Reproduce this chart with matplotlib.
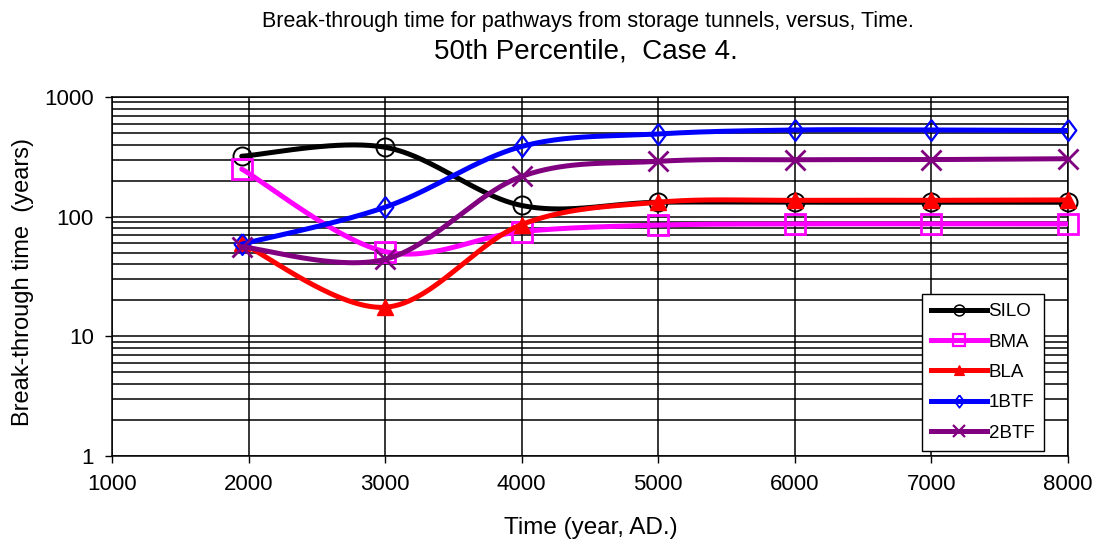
import numpy as np
import matplotlib
matplotlib.use('Agg')
import matplotlib.pyplot as plt
from matplotlib.lines import Line2D
from matplotlib.ticker import LogLocator, NullFormatter, FixedLocator

# ---- data ----
years = [1950, 3000, 4000, 5000, 6000, 7000, 8000]
silo = [320, 380, 124, 132, 132, 132, 132]
bma = [250, 51, 75, 85, 87, 87, 87]
bla = [60, 17.5, 86, 132, 137, 137, 138]
btf1 = [59, 120, 386, 491, 530, 530, 525]
btf2 = [56, 44, 217, 290, 299, 300, 305]
series_names = ['SILO', 'BMA', 'BLA', '1BTF', '2BTF']
x_ticks = [1000, 2000, 3000, 4000, 5000, 6000, 7000, 8000]
y_ticks = [1, 10, 100, 1000]

plt.rcParams['font.family'] = ['Liberation Sans', 'DejaVu Sans']

def smooth(x, y, n=60):
    """Excel-like smoothed line (Catmull-Rom Bezier) in (x, log y) space."""
    P = np.column_stack([np.asarray(x, float), np.log10(np.asarray(y, float))])
    out = []
    for i in range(len(P) - 1):
        p0 = P[i - 1] if i > 0 else P[i]
        p3 = P[i + 2] if i + 2 < len(P) else P[i + 1]
        c1 = P[i] + (P[i + 1] - p0) / 6.0
        c2 = P[i + 1] - (p3 - P[i]) / 6.0
        t = np.linspace(0, 1, n)[:, None]
        seg = ((1 - t) ** 3) * P[i] + 3 * ((1 - t) ** 2) * t * c1 \
            + 3 * (1 - t) * (t ** 2) * c2 + (t ** 3) * P[i + 1]
        out.append(seg if i == 0 else seg[1:])
    S = np.vstack(out)
    return S[:, 0], 10 ** S[:, 1]

diamond = [(0, 1), (0.75, 0), (0, -1), (-0.75, 0), (0, 1)]
styles = [
    dict(color='black', marker='o', ms=13, mfc='none', mew=1.4),
    dict(color='#FF00FF', marker='s', ms=14, mfc='none', mew=2.0),
    dict(color='#FF0000', marker='^', ms=12, mfc='#FF0000', mew=1.0),
    dict(color='#0000FF', marker=diamond, ms=15, mfc='none', mew=1.6),
    dict(color='#800080', marker='x', ms=15, mfc='none', mew=2.0),
]
data = [silo, bma, bla, btf1, btf2]

fig = plt.figure(figsize=(11.02, 5.44), dpi=100)
ax = fig.add_axes([112 / 1102, 1 - 456 / 544, (1068 - 112) / 1102, (456 - 97) / 544])
ax.set_yscale('log')
ax.set_xlim(1000, 8000)
ax.set_ylim(1, 1000)

handles = []
for k, (name, vals, st) in enumerate(zip(series_names, data, styles)):
    xs, ys = smooth(years, vals)
    ax.plot(xs, ys, color=st['color'], lw=3.6, solid_capstyle='round', zorder=3 + 2 * k)
    ax.plot(years, vals, ls='none', marker=st['marker'], ms=st['ms'],
            mfc=st['mfc'], mec=st['color'], mew=st['mew'], zorder=4 + 2 * k, clip_on=False)
    handles.append(Line2D([], [], color=st['color'], lw=3.6, marker=st['marker'],
                          ms=st['ms'] * 0.6, mfc=st['mfc'], mec=st['color'], mew=st['mew'] * 0.8))

ax.xaxis.set_major_locator(FixedLocator(x_ticks))
ax.set_xticklabels([str(v) for v in x_ticks])
ax.yaxis.set_major_locator(FixedLocator(y_ticks))
ax.set_yticklabels([str(v) for v in y_ticks])
ax.yaxis.set_minor_locator(LogLocator(base=10, subs=np.arange(2, 10), numticks=20))
ax.yaxis.set_minor_formatter(NullFormatter())

ax.grid(True, which='major', axis='both', color='black', lw=1.1, zorder=1)
ax.grid(True, which='minor', axis='y', color='black', lw=1.1, zorder=1)
ax.set_axisbelow(True)
ax.tick_params(axis='both', which='major', direction='out', length=5, width=1.0,
               labelsize=16, color='black')
ax.tick_params(axis='x', which='major', pad=8)
ax.tick_params(axis='y', which='major', pad=8)
ax.tick_params(axis='y', which='minor', length=0)
for sp in ax.spines.values():
    sp.set_color('black')
    sp.set_linewidth(1.1)

leg = ax.legend(handles, series_names, loc='upper left',
                bbox_to_anchor=((922 - 112) / 956, (456 - 294) / 359),
                borderaxespad=0, fontsize=13.5, handlelength=2.95, handletextpad=0.1,
                labelspacing=0.7, borderpad=0.5, frameon=True, fancybox=False,
                edgecolor='black', framealpha=1.0)
leg.get_frame().set_linewidth(1.0)
leg.set_zorder(20)

fig.text(588 / 1102, 1 - 21 / 544, 'Break-through time for pathways from storage tunnels, versus, Time.',
         ha='center', va='center', fontsize=15.5)
fig.text(586 / 1102, 1 - 51 / 544, '50th Percentile,  Case 4.',
         ha='center', va='center', fontsize=20)
fig.text(23 / 1102, 1 - 282.5 / 544, 'Break-through time  (years)', rotation=90,
         ha='center', va='center', fontsize=17)
fig.text(591 / 1102, 1 - 528 / 544, 'Time (year, AD.)', ha='center', va='center', fontsize=17.5)

fig.savefig('out.png', dpi=100)
